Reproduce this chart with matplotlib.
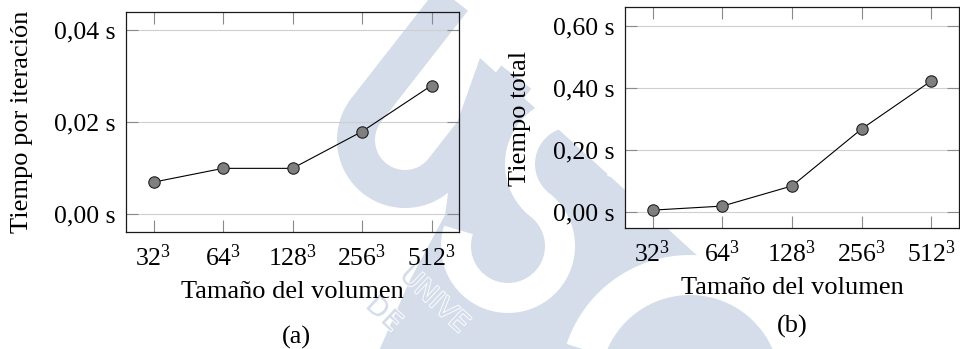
import numpy as np
import matplotlib
matplotlib.use("Agg")
import matplotlib.pyplot as plt
from matplotlib.patches import Polygon
import matplotlib.patheffects as pe

# Data
sizes = ["32", "64", "128", "256", "512"]
t_iter = [0.007, 0.010, 0.010, 0.018, 0.028]
t_total = [0.006, 0.019, 0.084, 0.268, 0.423]
iter_ticks = [0.00, 0.02, 0.04]
total_ticks = [0.00, 0.20, 0.40, 0.60]

W, H = 960, 349
plt.rcParams["font.family"] = ["Liberation Serif", "DejaVu Serif"]
plt.rcParams["mathtext.fontset"] = "stix"

fig = plt.figure(figsize=(W / 100, H / 100), dpi=100)

# ---- background emblem, drawn in pixel coordinates ----
bg = fig.add_axes([0, 0, 1, 1], zorder=-10)
bg.set_xlim(0, W)
bg.set_ylim(H, 0)
bg.axis("off")
WM = "#d5dcea"
PX = 0.72  # points per pixel at 100 dpi

ang = np.deg2rad(38)
e1 = np.array([np.cos(ang), np.sin(ang)])
e2 = np.array([np.sin(ang), -np.cos(ang)])


def to_px(origin, a, b):
    a = np.asarray(a, float)
    b = np.asarray(b, float)
    return origin[0] + a * e1[0] + b * e2[0], origin[1] + a * e1[1] + b * e2[1]


# big tinted block
bg.add_patch(Polygon([(480, 58), (790, 340), (790, 360), (375, 360),
                      (410, 280), (445, 215), (458, 120)],
                     closed=True, fc=WM, ec="none"))

# U
uo = (405, 140)
th = np.linspace(np.pi, 2 * np.pi, 80)
ua = np.concatenate([[-49, -49], 49 * np.cos(th), [49, 49]])
ub = np.concatenate([[260, 0], 49 * np.sin(th), [0, 118]])
ux, uy = to_px(uo, ua, ub)
bg.plot(ux, uy, color=WM, lw=38 * PX, solid_capstyle="butt")

# S (white on tint)
so = (540, 205)
r = 52
t1 = np.linspace(np.deg2rad(20), np.deg2rad(270), 80)
t2 = np.linspace(np.deg2rad(90), np.deg2rad(-160), 80)
sa = np.concatenate([r * np.cos(t1), r * np.cos(t2)])
sb = np.concatenate([r + r * np.sin(t1), -r + r * np.sin(t2)])
sx, sy = to_px(so, sa, sb)
bg.plot(sx, sy, color="white", lw=30 * PX, solid_capstyle="butt")

# C (white on tint)
co = (690, 385)
tc = np.linspace(np.deg2rad(45), np.deg2rad(315), 120)
cx, cy = to_px(co, 110 * np.cos(tc), 110 * np.sin(tc))
bg.plot(cx, cy, color="white", lw=40 * PX, solid_capstyle="butt")

# outlined lettering of the emblem
for txt, (x0, y0) in [("UNIVE", (412, 262)), ("DE", (378, 292))]:
    bg.text(x0, y0, txt, rotation=-43, rotation_mode="anchor", ha="left",
            va="top", fontsize=19.5, color=WM, family="DejaVu Sans",
            path_effects=[pe.withStroke(linewidth=1.3, foreground="white")])

# ---- charts ----
x = np.arange(len(sizes))
xlabels = [r"$\mathregular{%s^3}$" % s for s in sizes]


def fmt(v):
    return ("%.2f" % v).replace(".", ",") + " s"


def style(ax, yticks, ylim):
    ax.set_xlim(-0.4, 4.4)
    ax.set_ylim(*ylim)
    ax.set_xticks(x)
    ax.set_xticklabels(xlabels)
    ax.set_yticks(yticks)
    ax.set_yticklabels([fmt(v) for v in yticks])
    ax.yaxis.grid(True, color="#cfcfcf", lw=0.8)
    ax.set_axisbelow(True)
    ax.tick_params(direction="in", length=8.5, width=0.8, color="#8a8a8a",
                   top=True, right=True, labelsize=18.5)
    ax.tick_params(axis="x", pad=9)
    ax.tick_params(axis="y", pad=7.5)
    for s in ax.spines.values():
        s.set_color("#1a1a1a")
        s.set_linewidth(0.9)


def series(ax, vals):
    ax.plot(x, vals, color="black", lw=0.8, marker="o", ms=8.2,
            mfc="#7f7f7f", mec="#202020", mew=0.8, zorder=5, clip_on=False)


ax1 = fig.add_axes([125.7 / W, 1 - 232.3 / H, 333.6 / W, 220.6 / H])
ax1.set_facecolor("none")
style(ax1, iter_ticks, (-0.0039, 0.04405))
series(ax1, t_iter)

ax2 = fig.add_axes([624.7 / W, 1 - 228.3 / H, 334.6 / W, 221.0 / H])
ax2.set_facecolor("white")
style(ax2, total_ticks, (-0.0526, 0.660))
series(ax2, t_total)

fs = 19
fig.text(22 / W, 1 - 122 / H, "Tiempo por iteración", rotation=90,
         ha="center", va="center", fontsize=fs)
fig.text(520 / W, 1 - 118 / H, "Tiempo total", rotation=90,
         ha="center", va="center", fontsize=fs)
fig.text(292.5 / W, 1 - 292 / H, "Tamaño del volumen", ha="center",
         va="center", fontsize=fs)
fig.text(792 / W, 1 - 288 / H, "Tamaño del volumen", ha="center",
         va="center", fontsize=fs)
fig.text(296 / W, 1 - 337 / H, "(a)", ha="center", va="center", fontsize=fs)
fig.text(792 / W, 1 - 326 / H, "(b)", ha="center", va="center", fontsize=fs)

fig.savefig("out.png", dpi=100, facecolor="white")
